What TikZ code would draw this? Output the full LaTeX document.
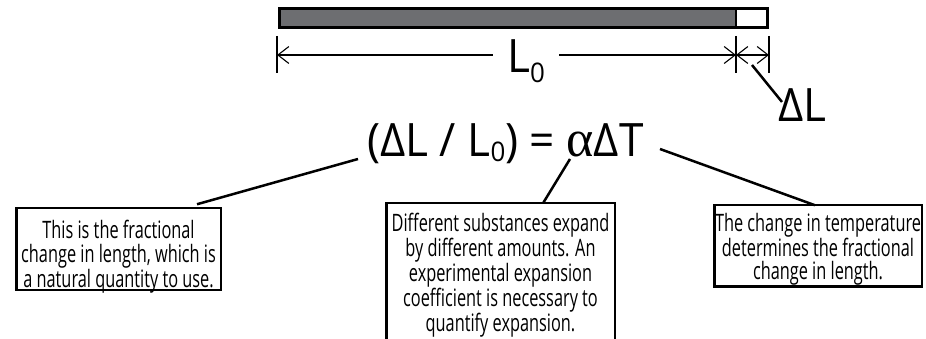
\documentclass[tikz,border=0pt]{standalone}
\usepackage{fontspec}
\setmainfont{Open Sans}[FakeStretch=0.68]
\newfontfamily\eqfont{Open Sans}[FakeStretch=0.96]
\newfontfamily\greekfont{Liberation Serif}
\usetikzlibrary{arrows.meta}
\definecolor{rodgray}{HTML}{6D6E71}
\newcommand{\subzero}[1]{\raisebox{#1}{\fontsize{27}{27}\selectfont 0}}
\newcommand{\topgap}[1]{\rule{0pt}{#1}}
\newcommand{\botgap}[1]{\rule[-#1]{0pt}{#1}}

\begin{document}
\begin{tikzpicture}[x=1pt, y=-1pt, >={Straight Barb[length=11pt,width=17pt]},
  dim/.style={line width=1.1pt},
  tickmark/.style={line width=2.5pt},
  lead/.style={line width=2.5pt},
  note/.style={draw, line width=2.5pt, align=center, inner sep=0pt, outer sep=0pt,
    anchor=north west, font=\fontsize{24}{23.5}\selectfont},
  big/.style={inner sep=0pt, anchor=base west, font=\eqfont\fontsize{46}{46}\selectfont}]
  \useasboundingbox (0,0) rectangle (926,339);
  \clip (0,0) rectangle (926,339);

  % the rod and its expansion
  \fill[rodgray] (279.5,8.5) rectangle (736,27.5);
  \draw[line width=3pt] (279.5,8.5) rectangle (767.5,27.5);
  \draw[line width=2.5pt] (736,8.5) -- (736,27.5);

  % dimension lines
  \coordinate (tickA) at (277,55);
  \coordinate (tickB) at (736,55);
  \coordinate (tickC) at (769,55);
  \foreach \t in {tickA,tickB,tickC} \draw[tickmark] ([yshift=19pt]\t) -- ([yshift=-18pt]\t);
  \node[big, inner xsep=14pt] (lzero) at (493,73) {L\subzero{-10pt}};
  \draw[dim,<-] (tickA) -- (lzero.west |- tickA);
  \draw[dim,->] (lzero.east |- tickB) -- (tickB);
  \draw[dim,<->] (tickB) -- (tickC);

  \node[big] (dL) at (778,122) {ΔL};
  \coordinate (dLfoot) at (752,65);
  \draw[lead] (dLfoot) -- ([xshift=4pt,yshift=-13pt]dL.north west);

  % the formula
  \node[big] (eq) at (367,157) {(ΔL / L\subzero{-5pt}) = {\greekfont\fontsize{52}{52}\selectfont α}ΔT};

  % notes
  \node[note, minimum width=204.5pt, font=\fontsize{24}{24.5}\selectfont] (frac) at (16.25,208.25)
    {\topgap{29.75pt}This is the fractional\\change in length, which is\\\smash{a natural quantity to use.}\botgap{2.75pt}};
  \node[note, minimum width=228.5pt] (coef) at (386.25,203.25)
    {\topgap{27.75pt}Different substances expand\\by different amounts. An\\experimental expansion\\coefficient is necessary to\\quantify expansion.\botgap{20pt}};
  \node[note, minimum width=207.5pt] (tchg) at (714.25,205.25)
    {\topgap{25.75pt}The change in temperature\\determines the fractional\\change in length.\botgap{6.75pt}};

  \coordinate (eqL) at (358,159);
  \coordinate (eqA) at (570,159);
  \coordinate (eqT) at (660,149);
  \draw[lead] (eqL) -- ([xshift=78.5pt,yshift=4pt]frac.north);
  \draw[lead] (eqA) -- ([xshift=42.5pt]coef.north);
  \draw[lead] (eqT) -- ([xshift=-3pt]tchg.north);
\end{tikzpicture}
\end{document}
